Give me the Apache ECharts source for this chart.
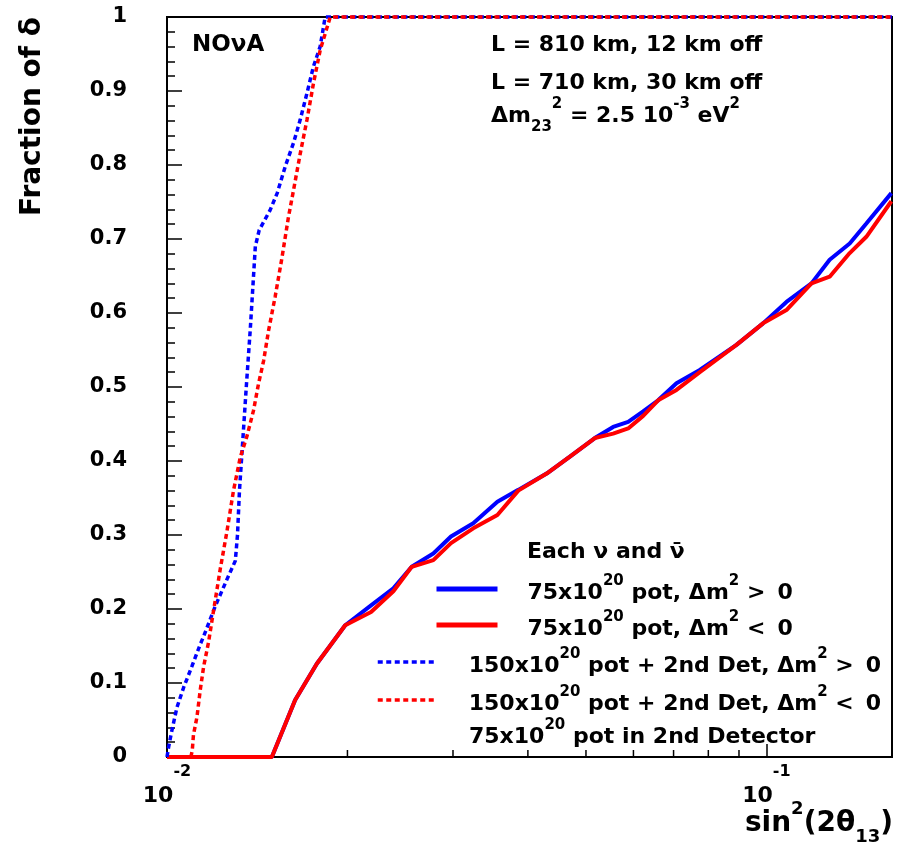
<!DOCTYPE html>
<html>
<head>
<meta charset="utf-8">
<script src="https://cdn.jsdelivr.net/npm/echarts@6/dist/echarts.min.js"></script>
<style>
  html, body { margin: 0; padding: 0; background: #fff; }
  #chart { width: 901px; height: 842px; }
</style>
</head>
<body>
<div id="chart"></div>
<script>
// Fraction of delta covered vs sin^2(2 theta13)

// 75x10^20 pot, each nu and nubar (solid curves)
const sinSqSolid = [0.0100, 0.01496, 0.01636, 0.01778, 0.01983, 0.02190, 0.02386, 0.02560, 0.02782, 0.02977,
  0.03243, 0.03558, 0.03855, 0.04299, 0.04701, 0.05173, 0.05550, 0.05880, 0.06228, 0.06597,
  0.07079, 0.07742, 0.08913, 0.09870, 0.1080, 0.1189, 0.1275, 0.1377, 0.1468, 0.1616];
const fracSolidPos = [0, 0, 0.077, 0.126, 0.178, 0.205, 0.228, 0.257, 0.275, 0.298,
  0.316, 0.345, 0.361, 0.383, 0.406, 0.431, 0.446, 0.453, 0.467, 0.482,
  0.505, 0.523, 0.557, 0.586, 0.615, 0.640, 0.672, 0.694, 0.721, 0.762];
const fracSolidNeg = [0, 0, 0.077, 0.126, 0.178, 0.196, 0.224, 0.257, 0.266, 0.289,
  0.309, 0.327, 0.360, 0.383, 0.406, 0.431, 0.437, 0.444, 0.461, 0.482,
  0.496, 0.520, 0.557, 0.586, 0.604, 0.640, 0.649, 0.681, 0.703, 0.751];

// 150x10^20 pot + 2nd detector, normal hierarchy (dashed blue)
const sinSqDashPos = [0.01000, 0.01006, 0.01019, 0.01039, 0.01066, 0.01101, 0.01136, 0.01151, 0.01204, 0.01259,
  0.01300, 0.01311, 0.01321, 0.01334, 0.01356, 0.01377, 0.01404, 0.01425, 0.01486, 0.01527,
  0.01575, 0.01626, 0.01668, 0.01712, 0.01755, 0.01801, 0.01836, 0.162];
const fracDashPos = [0.0, 0.013, 0.036, 0.067, 0.094, 0.123, 0.152, 0.163, 0.204, 0.240,
  0.265, 0.300, 0.360, 0.412, 0.500, 0.578, 0.690, 0.712, 0.739, 0.762,
  0.798, 0.830, 0.861, 0.897, 0.933, 0.960, 1.0, 1.0];

// 150x10^20 pot + 2nd detector, inverted hierarchy (dashed red)
const sinSqDashNeg = [0.01096, 0.01102, 0.01107, 0.01122, 0.01136, 0.01151, 0.01173, 0.01196, 0.01227, 0.01259,
  0.01291, 0.01325, 0.01359, 0.01394, 0.01421, 0.01449, 0.01477, 0.01515, 0.01554, 0.01594,
  0.01625, 0.01668, 0.01712, 0.01755, 0.01801, 0.01872, 0.162];
const fracDashNeg = [0.0, 0.009, 0.030, 0.054, 0.090, 0.122, 0.155, 0.198, 0.254, 0.305,
  0.360, 0.405, 0.433, 0.468, 0.504, 0.535, 0.576, 0.622, 0.673, 0.729,
  0.765, 0.815, 0.861, 0.910, 0.955, 1.0, 1.0];

// minor ticks of the log axis between 10^-2 and 10^-1
const xMinorTicks = [0.02, 0.03, 0.04, 0.05, 0.06, 0.07, 0.08, 0.09];

const FONT = '"DejaVu Sans", sans-serif';
const BLUE = '#0000ff';
const RED = '#ff0000';

const pairs = (xs, ys) => xs.map((x, i) => [x, ys[i]]);

// rich-text styles: n = normal, s = superscript, b = subscript
function richSet(size, supSize, padTop, padBottom) {
  return {
    n: { fontFamily: FONT, fontWeight: 'bold', fontSize: size, color: '#000', padding: [padTop, 0, padBottom, 0] },
    s: { fontFamily: FONT, fontWeight: 'bold', fontSize: supSize, color: '#000', verticalAlign: 'top' },
    b: { fontFamily: FONT, fontWeight: 'bold', fontSize: supSize, color: '#000', verticalAlign: 'bottom' },
    g: { fontFamily: FONT, fontSize: size, width: 25 },
    h: { fontFamily: FONT, fontSize: size, width: 29 }
  };
}

const legendText = {
  '75x10^20 pot, dm2 > 0': '{g| }{n|75x10}{s|20}{n| pot, Δm}{s|2}{n| > \u20090}',
  '75x10^20 pot, dm2 < 0': '{g| }{n|75x10}{s|20}{n| pot, Δm}{s|2}{n| < \u20090}',
  '150x10^20 pot + 2nd Det, dm2 > 0': '{h| }{n|150x10}{s|20}{n| pot + 2nd Det, Δm}{s|2}{n| > \u20090}',
  '150x10^20 pot + 2nd Det, dm2 < 0': '{h| }{n|150x10}{s|20}{n| pot + 2nd Det, Δm}{s|2}{n| < \u20090}'
};
const seriesNames = Object.keys(legendText);

function legendAt(name, left, top, lineWidth, iconWidth) {
  return {
    data: [name], left: left, top: top, padding: 0, orient: 'horizontal',
    itemWidth: iconWidth, itemHeight: 14, itemGap: 0, selectedMode: false,
    itemStyle: { opacity: 0 },
    lineStyle: { width: lineWidth },
    formatter: n => legendText[n],
    textStyle: { rich: richSet(22, 15, 8, 0) }
  };
}

const chart = echarts.init(document.getElementById('chart'));

const option = {
  animation: false,
  backgroundColor: '#fff',
  grid: {
    left: 167, right: 9, top: 17, bottom: 85,
    outerBoundsMode: 'none', containLabel: false,
    show: true, borderColor: '#000', borderWidth: 2, backgroundColor: 'transparent'
  },
  xAxis: {
    type: 'log', logBase: 10, min: 0.01, max: 0.162,
    axisLine: { show: false },
    axisTick: { show: true, inside: true, length: 13, lineStyle: { color: '#000', width: 1.5 } },
    splitLine: { show: false },
    axisLabel: {
      margin: 7, showMaxLabel: false,
      formatter: v => '{n|10}{s|' + Math.round(Math.log10(v)) + '}',
      rich: richSet(22, 16, 21, 0)
    }
  },
  yAxis: {
    type: 'value', min: 0, max: 1, interval: 0.1,
    axisLine: { show: false },
    axisTick: { show: true, inside: true, length: 15, lineStyle: { color: '#000', width: 1.5 } },
    minorTick: { show: true, splitNumber: 5, length: 8, lineStyle: { color: '#000', width: 1.5 } },
    splitLine: { show: false },
    axisLabel: { margin: 40, color: '#000', fontFamily: FONT, fontWeight: 'bold', fontSize: 21 }
  },
  legend: [
    legendAt(seriesNames[0], 434, 574, 5, 61),
    legendAt(seriesNames[1], 434, 610, 5, 61),
    legendAt(seriesNames[2], 376, 647, 3.5, 57),
    legendAt(seriesNames[3], 376, 685, 3.5, 57)
  ],
  series: [
    {
      name: seriesNames[0], type: 'line', data: pairs(sinSqSolid, fracSolidPos),
      symbol: 'none', clip: false, z: 3,
      lineStyle: { color: BLUE, width: 4 }, itemStyle: { color: BLUE }
    },
    {
      name: seriesNames[1], type: 'line', data: pairs(sinSqSolid, fracSolidNeg),
      symbol: 'none', clip: false, z: 4,
      lineStyle: { color: RED, width: 4 }, itemStyle: { color: RED }
    },
    {
      name: seriesNames[2], type: 'line', data: pairs(sinSqDashPos, fracDashPos),
      symbol: 'none', clip: false, z: 5,
      lineStyle: { color: BLUE, width: 3.5, type: [5, 3.5] }, itemStyle: { color: BLUE }
    },
    {
      name: seriesNames[3], type: 'line', data: pairs(sinSqDashNeg, fracDashNeg),
      symbol: 'none', clip: false, z: 6,
      lineStyle: { color: RED, width: 3.5, type: [5, 3.5] }, itemStyle: { color: RED }
    },
    {
      name: 'x minor ticks', type: 'custom', silent: true, z: 1, clip: false,
      data: xMinorTicks.map(v => [v, 0]),
      renderItem: (params, api) => {
        const p = api.coord([api.value(0), api.value(1)]);
        return {
          type: 'line',
          shape: { x1: p[0], y1: p[1], x2: p[0], y2: p[1] - 7 },
          style: { stroke: '#000', lineWidth: 1.5 }
        };
      }
    }
  ],
  graphic: [
    {
      type: 'text', x: 33, y: 17, rotation: Math.PI / 2,
      style: { text: 'Fraction of δ', fontFamily: FONT, fontWeight: 'bold', fontSize: 28, fill: '#000',
        align: 'right', verticalAlign: 'middle' }
    },
    {
      type: 'text', x: 893, y: 823,
      style: { text: '{n|sin}{s|2}{n|(2θ}{b|13}{n|)}', rich: richSet(28, 18, 10, 8),
        align: 'right', verticalAlign: 'middle' }
    },
    {
      type: 'text', x: 192, y: 45,
      style: { text: 'NOνA', fontFamily: FONT, fontWeight: 'bold', fontSize: 23, fill: '#000',
        align: 'left', verticalAlign: 'middle' }
    },
    {
      type: 'text', x: 491, y: 45,
      style: { text: 'L = 810 km, 12 km off', fontFamily: FONT, fontWeight: 'bold', fontSize: 22, fill: '#000',
        align: 'left', verticalAlign: 'middle' }
    },
    {
      type: 'text', x: 491, y: 83,
      style: { text: 'L = 710 km, 30 km off', fontFamily: FONT, fontWeight: 'bold', fontSize: 22, fill: '#000',
        align: 'left', verticalAlign: 'middle' }
    },
    {
      type: 'text', x: 491, y: 116,
      style: { text: '{n|Δm}{b|23}{s|2}{n| = 2.5 10}{s|-3}{n| eV}{s|2}', rich: richSet(22, 15, 8, 8),
        align: 'left', verticalAlign: 'middle' }
    },
    {
      type: 'text', x: 527, y: 552,
      style: { text: 'Each ν and ν̄', fontFamily: FONT, fontWeight: 'bold', fontSize: 22, fill: '#000',
        align: 'left', verticalAlign: 'middle' }
    },
    {
      type: 'text', x: 469, y: 733,
      style: { text: '{n|75x10}{s|20}{n| pot in 2nd Detector}', rich: richSet(22, 15, 8, 0),
        align: 'left', verticalAlign: 'middle' }
    }
  ]
};

chart.setOption(option);
</script>
</body>
</html>
